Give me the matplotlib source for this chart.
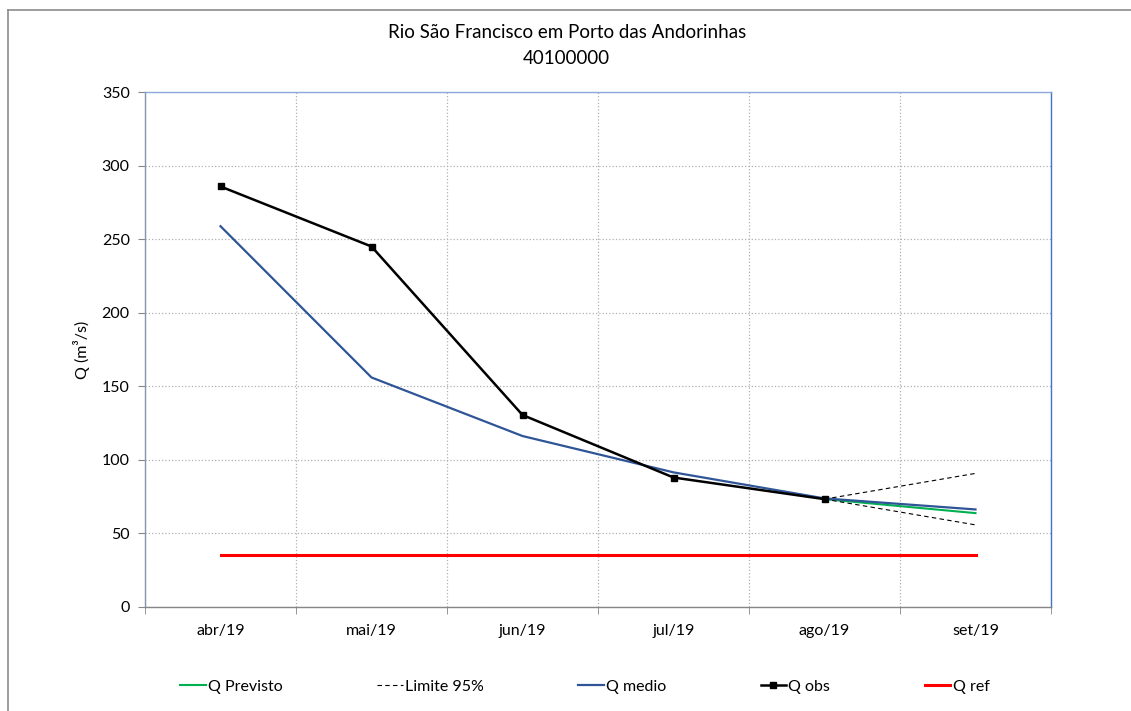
import matplotlib.pyplot as plt
from matplotlib.lines import Line2D
import numpy as np

plt.rcParams['font.family'] = ['Lato', 'DejaVu Sans']

# data
months = ['abr/19', 'mai/19', 'jun/19', 'jul/19', 'ago/19', 'set/19']
q_obs = [285.8, 245.0, 130.5, 88.0, 73.3]
q_medio = [258.8, 156.0, 116.2, 91.5, 73.8, 66.3]
q_previsto = [73.3, 63.8]
limite_sup = [73.3, 90.8]
limite_inf = [73.3, 55.8]
q_ref = [35.5] * 6

x = np.arange(len(months))

fig = plt.figure(figsize=(11.31, 7.11), dpi=100)
ax = fig.add_axes([145 / 1131, 1 - 607 / 711, 906 / 1131, 515 / 711])

# series
ax.plot(x[4:], q_previsto, color='#00B050', lw=1.5, label='Q Previsto', zorder=3)
ax.plot(x[4:], limite_sup, color='black', lw=0.8, ls=(0, (4, 3)), label='Limite 95%', zorder=3)
ax.plot(x[4:], limite_inf, color='black', lw=0.8, ls=(0, (4, 3)), zorder=3)
ax.plot(x, q_medio, color='#2F5597', lw=1.6, label='Q medio', zorder=4)
ax.plot(x[:5], q_obs, color='black', lw=1.8, marker='s', ms=5, label='Q obs', zorder=5)
ax.plot(x, q_ref, color='#FF0000', lw=2.2, label='Q ref', zorder=3)

# axes, ticks, grid
ax.set_xlim(-0.5, 5.5)
ax.set_ylim(0, 350)
ax.set_yticks(np.arange(0, 351, 50))
ax.set_xticks(x)
ax.set_xticklabels(months)
ax.set_xticks(np.arange(-0.5, 5.6, 1), minor=True)
ax.tick_params(axis='x', which='major', length=0, pad=12, labelsize=11.5)
ax.tick_params(axis='x', which='minor', length=5, color='#868686')
ax.tick_params(axis='y', length=5, color='#868686', labelsize=11.5, pad=6)
ax.grid(True, axis='y', color='#B0B0B0', ls=':', lw=0.9)
ax.grid(True, axis='x', which='minor', color='#B0B0B0', ls=':', lw=0.9)

ax.spines['left'].set_color('#8497B0')
ax.spines['bottom'].set_color('#868686')
ax.spines['right'].set_color('#4472C4')
ax.spines['top'].set_color('#8EA9DB')
for s in ax.spines.values():
    s.set_linewidth(1.0)

ax.set_ylabel('Q (m³/s)', fontsize=11.5, labelpad=8)

fig.text(0.501, 1 - 32 / 711, 'Rio São Francisco em Porto das Andorinhas',
         ha='center', va='center', fontsize=13.5)
fig.text(0.501, 1 - 58 / 711, '40100000', ha='center', va='center', fontsize=13.5)

# legend
handles, labels = ax.get_legend_handles_labels()
fig.legend(handles, labels, loc='center', bbox_to_anchor=(0.517, 1 - 687 / 711),
           ncol=5, frameon=False, fontsize=11.5, handlelength=1.6,
           handletextpad=0.15, columnspacing=5.9)

# outer chart frame (top and left edges visible)
fig.add_artist(Line2D([8 / 1131, 8 / 1131], [-0.05, 1 - 10 / 711],
                      transform=fig.transFigure, color='#8C8C8C', lw=1.2))
fig.add_artist(Line2D([8 / 1131, 1.05], [1 - 10 / 711, 1 - 10 / 711],
                      transform=fig.transFigure, color='#8C8C8C', lw=1.2))

fig.savefig('out.png', dpi=100)
